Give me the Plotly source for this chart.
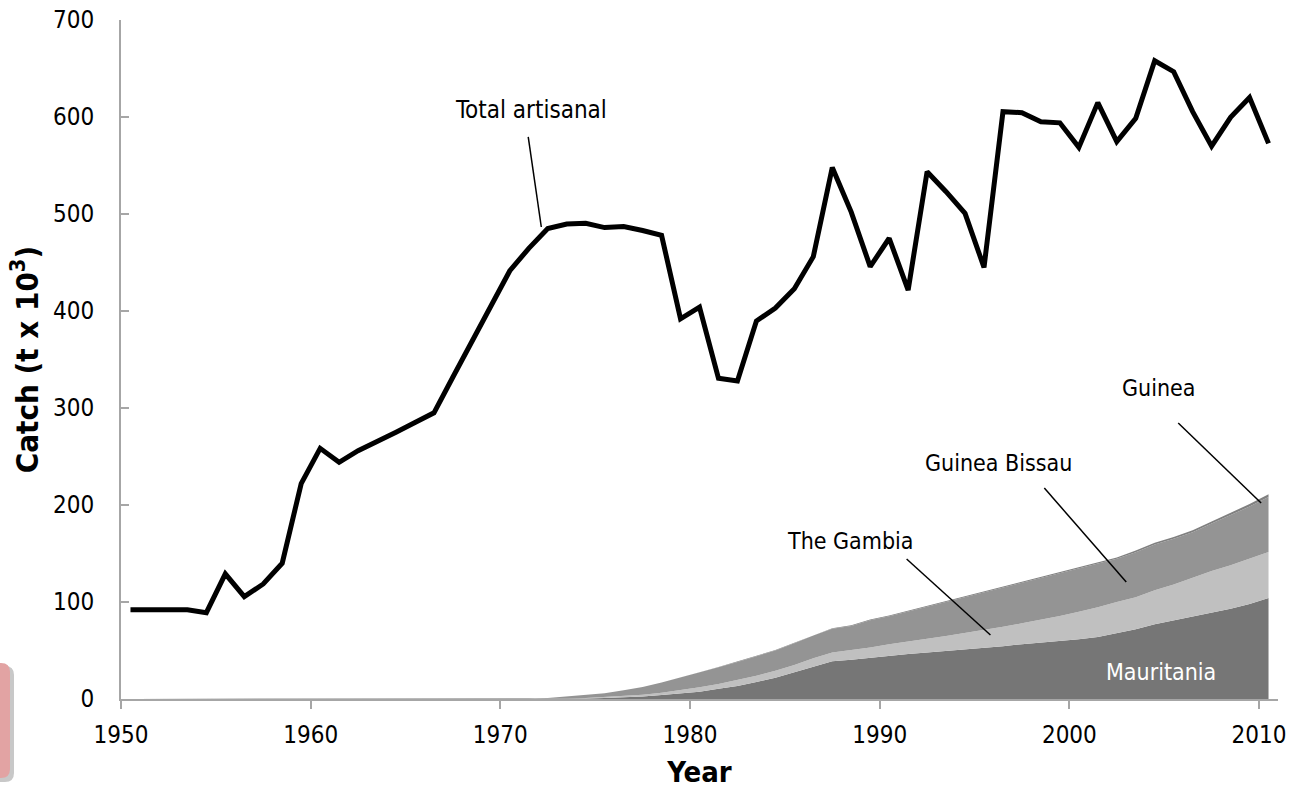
import plotly.graph_objects as go

years = list(range(1950, 2011))

total_artisanal = [
    92, 92, 92, 92, 89, 129, 105.5, 118.6, 140, 222,
    258.4, 244, 256, 265, 275, 285, 295, 332, 368, 405,
    441.5, 464.6, 485, 489.7, 490.4, 486, 487, 483, 478, 392,
    404, 330.6, 327.8, 389.7, 403, 423, 456, 548, 502, 445.7,
    475, 421.6, 543.6, 523, 500.7, 445, 605.5, 604.5, 595, 594,
    568.7, 614.8, 574.6, 598.6, 658, 646.7, 605.5, 570, 599.6, 620,
    572.8,
]

zeros20 = [0] * 20  # 1950-1969
mauritania = zeros20 + [
    0, 0, 0, 0.2, 0.5, 1, 1.7, 2.7, 4, 5.5,
    7.6, 10.5, 13.4, 17.5, 22, 27.5, 33, 39, 40.5, 42.5,
    45, 46.5, 48, 49.5, 51, 52.5, 54.5, 56.5, 58, 60,
    61.5, 64, 68, 72, 77, 81, 85, 89, 93, 98,
    104,
]
the_gambia = zeros20 + [
    0, 0, 0.2, 0.3, 0.5, 1, 1.3, 1.8, 2.5, 3.5,
    4.4, 5, 6.1, 6.5, 7, 7.5, 9, 9, 10, 10.5,
    11.5, 12.5, 14, 15.5, 17, 18.5, 20, 21.5, 23.5, 25.5,
    28.5, 30.5, 32, 33, 35, 37, 40, 43, 45, 47,
    47.5,
]
guinea_bissau = zeros20 + [
    0, 0.3, 0.8, 2.0, 3.0, 4.0, 6.0, 8.0, 10.5, 13.0,
    15.2, 17.2, 18.6, 20.1, 21.0, 22.5, 23.4, 24.4, 24.8, 28.3,
    28.7, 31.2, 33.1, 35.1, 37.0, 38.5, 39.9, 41.4, 42.8, 44.3,
    44.7, 44.6, 44.5, 46.4, 47.3, 47.2, 47.0, 48.8, 51.6, 53.4,
    56.7,
]
guinea = zeros20 + [
    0, 0, 0, 0, 0, 0, 0, 0, 0, 0,
    0.3, 0.3, 0.4, 0.4, 0.5, 0.5, 0.6, 0.6, 0.7, 0.7,
    0.8, 0.8, 0.9, 0.9, 1.0, 1.0, 1.1, 1.1, 1.2, 1.2,
    1.3, 1.4, 1.5, 1.6, 1.7, 1.8, 2.0, 2.2, 2.4, 2.6,
    2.8,
]

x_ticks = [1950, 1960, 1970, 1980, 1990, 2000, 2010]
y_ticks = [0, 100, 200, 300, 400, 500, 600, 700]

# Excel category axis: each year's point sits in the middle of its slot
xpos = [y + 0.5 for y in years]

FONT = "DejaVu Sans Condensed, DejaVu Sans, sans-serif"

fig = go.Figure()

areas = [
    ("Mauritania", mauritania, "#767676"),
    ("The Gambia", the_gambia, "#c0c0c0"),
    ("Guinea Bissau", guinea_bissau, "#949494"),
    ("Guinea", guinea, "#808080"),
]
for name, vals, col in areas:
    fig.add_trace(go.Scatter(
        x=xpos, y=vals, name=name, mode="lines",
        stackgroup="one", line=dict(width=0, color=col),
        fillcolor=col, hoverinfo="skip",
    ))

fig.add_trace(go.Scatter(
    x=xpos, y=total_artisanal, name="Total artisanal", mode="lines",
    line=dict(color="black", width=5), hoverinfo="skip",
))

axis_col = "#a6a6a6"
fig.update_layout(
    width=1312, height=789,
    margin=dict(l=121, r=34, t=20, b=90),
    paper_bgcolor="white", plot_bgcolor="white",
    showlegend=False,
    font=dict(family=FONT, size=24, color="black"),
    xaxis=dict(
        range=[1950, 2011], tickvals=x_ticks, ticktext=[str(v) for v in x_ticks],
        automargin=False,
        showgrid=False, zeroline=False, showline=True, linecolor=axis_col, linewidth=2,
        ticks="outside", ticklen=8, tickwidth=2, tickcolor=axis_col,
        tickfont=dict(size=24), ticklabelstandoff=5,
        title=dict(text="<b>Year</b>", font=dict(size=29), standoff=14),
    ),
    yaxis=dict(
        range=[0, 700], tickvals=y_ticks,
        automargin=False,
        showgrid=False, zeroline=False, showline=True, linecolor=axis_col, linewidth=2,
        ticks="inside", ticklen=8, tickwidth=2, tickcolor=axis_col,
        tickfont=dict(size=24), ticklabelstandoff=20,
        title=dict(text="<b>Catch (t x 10<sup>3</sup>)</b>", font=dict(size=31), standoff=5),
    ),
)

def label(text, x, y, color="black", size=23):
    fig.add_annotation(x=x, y=y, xref="x", yref="y", text=text, showarrow=False,
                       font=dict(family=FONT, size=size, color=color))

def leader(x0, y0, x1, y1):
    fig.add_shape(type="line", x0=x0, y0=y0, x1=x1, y1=y1, xref="x", yref="y",
                  line=dict(color="black", width=1.5))

label("Total artisanal", 1971.63, 607, size=24)
leader(1971.47, 579.4, 1972.16, 486.6)
label("Guinea", 2004.68, 320.6)
leader(2005.74, 284.5, 2010.11, 202)
label("Guinea Bissau", 1996.26, 243.3)
leader(1998.68, 217.5, 2003.0, 120.6)
label("The Gambia", 1988.47, 162.9)
leader(1991.42, 144.3, 1995.84, 66)
label("Mauritania", 2004.84, 27.8, color="white")

# partial pink box at the lower-left edge
def px2paper_x(px):
    return (px - 121) / 1157

def px2paper_y(py):
    return (699 - py) / 679

def rounded_rect(x0, y0, x1, y1, r):
    rx, ry = r / 1157, r / 679
    X0, X1 = px2paper_x(x0), px2paper_x(x1)
    Y0, Y1 = px2paper_y(y0), px2paper_y(y1)
    return (f"M {X0},{Y0} L {X1-rx},{Y0} Q {X1},{Y0} {X1},{Y0-ry} "
            f"L {X1},{Y1+ry} Q {X1},{Y1} {X1-rx},{Y1} L {X0},{Y1} Z")

fig.add_shape(type="path", path=rounded_rect(-40, 666, 14, 782, 9), xref="paper", yref="paper",
              fillcolor="#c8c8c8", line=dict(width=0), layer="above")
fig.add_shape(type="path", path=rounded_rect(-40, 663, 10, 778, 9), xref="paper", yref="paper",
              fillcolor="#e2a3a3", line=dict(width=0), layer="above")

fig.write_html(
    "out.html",
    config={"displayModeBar": False, "staticPlot": True},
    post_script="document.body.style.margin='0';document.body.style.padding='0';"
                "document.documentElement.style.overflow='hidden';",
)
